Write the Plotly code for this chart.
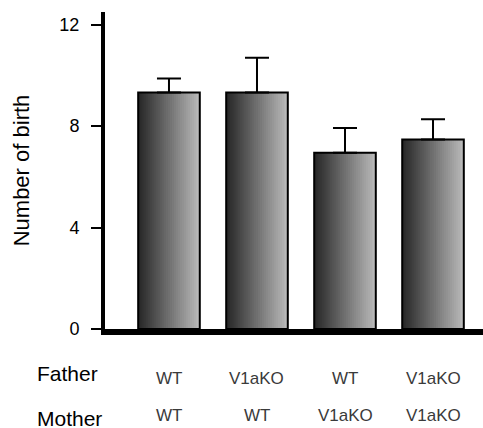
import plotly.graph_objects as go

groups = ["G1", "G2", "G3", "G4"]
father = ["WT", "V1aKO", "WT", "V1aKO"]
mother = ["WT", "WT", "V1aKO", "V1aKO"]
births = [9.33, 9.33, 6.95, 7.47]
sem = [0.55, 1.37, 0.98, 0.80]
y_ticks = [0, 4, 8, 12]

FONT = "Liberation Sans, Arial, sans-serif"
BAR_W = 0.70
N = 31
c0, c1 = 40, 185  # dark left -> light right

fig = go.Figure()
for i in range(N):
    t = i / (N - 1)
    g = int(round(c0 + (c1 - c0) * t))
    step = BAR_W / N
    w = step * 3 if i < N - 2 else BAR_W / 2 - (-BAR_W / 2 + i * step)
    fig.add_trace(go.Bar(
        x=groups, y=births,
        width=w,
        offset=-BAR_W / 2 + i * step,
        marker=dict(color=f"rgb({g},{g},{g})", line=dict(width=0)),
        showlegend=False, hoverinfo="skip",
    ))

fig.add_trace(go.Bar(
    x=groups, y=births, width=BAR_W,
    marker=dict(color="rgba(0,0,0,0)", line=dict(color="black", width=2)),
    error_y=dict(type="data", array=sem, arrayminus=[0] * len(sem), symmetric=False,
                 thickness=2, width=12, color="black"),
    showlegend=False,
))

fig.update_layout(
    width=483, height=428,
    margin=dict(l=105, r=0, t=12, b=99),
    barmode="overlay",
    plot_bgcolor="white", paper_bgcolor="white",
    font=dict(family=FONT, color="black"),
    xaxis=dict(range=[-0.727, 3.568], showticklabels=False, ticks="",
               showline=True, linecolor="black", linewidth=6, showgrid=False,
               zeroline=False),
    yaxis=dict(range=[0, 12.5], tickvals=y_ticks, ticks="outside", ticklen=10,
               tickwidth=2, tickcolor="black", showline=True, linecolor="black",
               linewidth=4, showgrid=False, zeroline=False,
               tickfont=dict(size=18, family=FONT, color="black"),
               ticklabelstandoff=8,
               title=dict(text="Number of birth", font=dict(size=22, family=FONT),
                          standoff=25)),
)

for label, yy in (("Father", -0.139), ("Mother", -0.283)):
    fig.add_annotation(text=label, xref="paper", yref="paper", x=-0.185, y=yy,
                       xanchor="left", yanchor="middle", showarrow=False,
                       font=dict(size=21, family=FONT, color="black"))
for g, f, m in zip(groups, father, mother):
    fig.add_annotation(text=f, x=g, xref="x", yref="paper", y=-0.155,
                       xanchor="center", yanchor="middle", showarrow=False,
                       font=dict(size=17, family=FONT, color="#3a3a3a"))
    fig.add_annotation(text=m, x=g, xref="x", yref="paper", y=-0.272,
                       xanchor="center", yanchor="middle", showarrow=False,
                       font=dict(size=17, family=FONT, color="#3a3a3a"))

fig.write_html("out.html", post_script="document.body.style.margin='0';",
               config={"displayModeBar": False})
